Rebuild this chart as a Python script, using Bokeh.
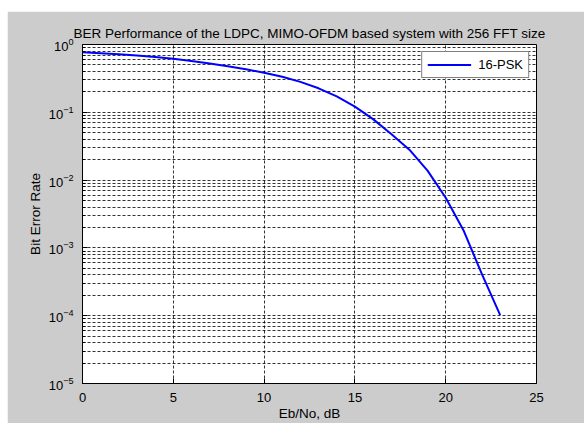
from bokeh.plotting import figure
from bokeh.models import FixedTicker, Legend, LegendItem
from bokeh.embed import file_html
from bokeh.resources import INLINE

# Data
ebno_db = [0, 1, 2, 3, 4, 5, 6, 7, 8, 9, 10, 11, 12, 13, 14, 15, 16, 17, 18, 19, 20, 21, 22, 23]
ber_16psk = [0.771, 0.746, 0.718, 0.689, 0.653, 0.617, 0.571, 0.525, 0.479, 0.4315, 0.384,
             0.334, 0.281, 0.226, 0.1714, 0.1213, 0.0793, 0.0478, 0.0281, 0.01377, 0.00548,
             0.001774, 0.000406, 0.000102]
x_ticks = [0, 5, 10, 15, 20, 25]
y_decades = [-5, -4, -3, -2, -1, 0]
series_name = "16-PSK"
title_text = "BER Performance of the LDPC, MIMO-OFDM based system with 256 FFT size"
x_label = "Eb/No, dB"
y_label = "Bit Error Rate"

FONT = "Liberation Sans"
GRAY = "#cccccc"

y_major = [10.0 ** e for e in y_decades]
y_minor = [m * 10.0 ** e for e in y_decades[:-1] for m in range(2, 10)]

p = figure(width=577, height=412,
           x_range=(0, 25), y_range=(1e-5, 1), y_axis_type="log",
           output_backend="svg", toolbar_location=None,
           min_border_left=75, min_border_right=48, min_border_top=33, min_border_bottom=39,
           title=title_text)
p.margin = (11, 0, 0, 7)

p.background_fill_color = "white"
p.border_fill_color = GRAY
p.outline_line_color = "black"
p.outline_line_width = 1

p.title.align = "center"
p.title.text_font = FONT
p.title.text_font_size = "13.5px"
p.title.text_font_style = "normal"
p.title.text_color = "black"
p.title.standoff = 7

# axes
p.xaxis.ticker = FixedTicker(ticks=x_ticks)
p.yaxis.ticker = FixedTicker(ticks=y_major, minor_ticks=y_minor)
for ax in (p.xaxis[0], p.yaxis[0]):
    ax.axis_line_color = "black"
    ax.major_tick_in = 5
    ax.major_tick_out = 0
    ax.minor_tick_in = 3
    ax.minor_tick_out = 0
    ax.major_tick_line_color = "black"
    ax.major_label_text_font = FONT
    ax.major_label_text_font_size = "13px"
    ax.major_label_text_color = "black"
    ax.axis_label_text_font = FONT
    ax.axis_label_text_font_size = "13.5px"
    ax.axis_label_text_font_style = "normal"
    ax.axis_label_text_color = "black"
p.xaxis.minor_tick_line_color = None
p.xaxis.axis_label = x_label
p.xaxis.major_label_standoff = 9
p.xaxis.axis_label_standoff = 1
p.yaxis.axis_label = y_label
p.yaxis.major_label_standoff = 9
p.yaxis.axis_label_standoff = 3
p.yaxis.minor_tick_line_color = "black"

# grids (MATLAB-like dotted)
for g in (p.xgrid[0], p.ygrid[0]):
    g.grid_line_color = "black"
    g.grid_line_alpha = 0.8
    g.grid_line_dash = "3 2"
    g.grid_line_width = 1
p.ygrid.minor_grid_line_color = "black"
p.ygrid.minor_grid_line_alpha = 0.8
p.ygrid.minor_grid_line_dash = "3 2"

r = p.line(ebno_db, ber_16psk, line_color="#0000ff", line_width=2)

legend = Legend(items=[LegendItem(label=series_name, renderers=[r])],
                location="top_right")
legend.margin = 7
legend.padding = 5
legend.spacing = 0
legend.glyph_width = 44
legend.glyph_height = 13
legend.label_standoff = 7
legend.label_height = 13
legend.label_text_font = FONT
legend.label_text_font_size = "13px"
legend.label_text_color = "black"
legend.border_line_color = "black"
legend.border_line_width = 1
legend.background_fill_color = "white"
legend.background_fill_alpha = 1
p.add_layout(legend)

open("out.html", "w").write(file_html(p, INLINE))
